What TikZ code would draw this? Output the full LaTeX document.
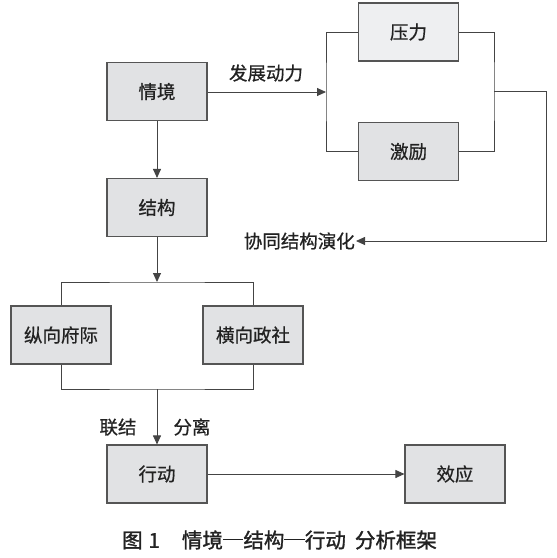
\documentclass[tikz,border=0pt]{standalone}
\usepackage{fontspec}
\setmainfont{Noto Sans CJK SC}
\newfontfamily\medfont{Noto Sans CJK SC}[FakeBold=0.7]
\newfontfamily\capfont{Noto Sans CJK SC}[FakeBold=1.4]
\usetikzlibrary{arrows.meta}
\definecolor{boxfill}{HTML}{E1E2E4}
\definecolor{boxlight}{HTML}{EEEFF1}
\definecolor{boxline}{HTML}{555555}
\definecolor{conn}{HTML}{444444}
\definecolor{txt}{HTML}{222222}
\newcommand{\capdash}{\rule[0.36em]{1em}{0.055em}}
\tikzset{
  box/.style={draw=boxline, line width=1.1pt, fill=boxfill, minimum width=100pt, minimum height=58pt, inner sep=0pt, font=\medfont\fontsize{18.5pt}{20pt}\selectfont, text=txt},
  lbl/.style={inner sep=1pt, font=\medfont\fontsize{18.5pt}{20pt}\selectfont, text=txt},
  line/.style={draw=conn, line width=0.9pt},
  arr/.style={line, -{Triangle[length=9pt,width=8pt]}},
}
\begin{document}
\begin{tikzpicture}[x=1pt,y=-1pt]
\useasboundingbox (0,0) rectangle (557,558);
% boxes
\node[box] (qj) at (157,91.5) {情境};
\node[box, fill=boxlight] (yl) at (408.5,32) {压力};
\node[box] (jl) at (408.5,151.5) {激励};
\node[box] (jg) at (157,207.5) {结构};
\node[box] (zx) at (61,335) {纵向府际};
\node[box] (hx) at (253,335) {横向政社};
\node[box] (xd) at (157,474) {行动};
\node[box] (xy) at (455,474) {效应};
% labels
\node[lbl] (fz) at (266,73) {发展动力};
\node[lbl, anchor=east] (xt) at (356,241) {协同结构演化};
\node[lbl] (lj) at (118,427) {联结};
\node[lbl] (fl) at (192,427) {分离};
\node[inner sep=0pt, font=\capfont\fontsize{20.5pt}{22pt}\selectfont, text=txt] (cap) at (279.5,540) {图\hspace{6pt}1\hspace{22pt}情境\capdash 结构\capdash 行动\hspace{9pt}分析框架};
% coordinates
\coordinate (lb) at (326,92);
\coordinate (rb) at (494,91);
\coordinate (rc) at (546,91);
\coordinate (tb) at (157,282);
\coordinate (bb) at (157,389);
% connectors
\draw[arr] (qj.east |- lb) -- (lb);
\draw[line] (yl.west) -| (lb) |- (jl.west);
\draw[line] (yl.east) -| (rb) |- (jl.east);
\draw[arr] (rb) -- (rc) |- (xt.east);
\draw[arr] (qj) -- (jg);
\draw[arr] (jg) -- (tb);
\draw[line] (zx.north) |- (tb) -| (hx.north);
\draw[line] (zx.south) |- (bb) -| (hx.south);
\draw[arr] (bb) -- (xd);
\draw[arr] (xd) -- (xy);
\end{tikzpicture}
\end{document}
